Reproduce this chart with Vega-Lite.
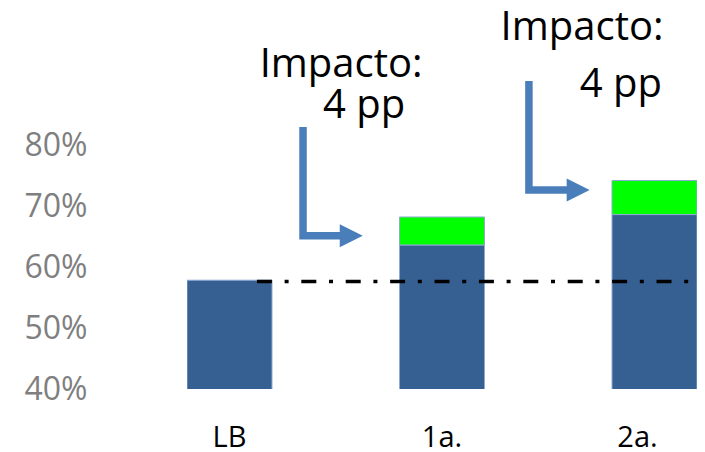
{
  "$schema": "https://vega.github.io/schema/vega-lite/v6.json",
  "width": 510,
  "height": 389,
  "autosize": {"type": "none"},
  "padding": {"left": 187, "top": 0, "right": 8, "bottom": 63},
  "background": "white",
  "config": {"view": {"stroke": null}, "font": "Open Sans", "axis": {"labelFont": "Open Sans"}},
  "datasets": {
    "bars": [
      {"cat": "LB", "part": "base", "ord": 1, "value": 57.9},
      {"cat": "1a.", "part": "base", "ord": 1, "value": 63.7},
      {"cat": "1a.", "part": "impact", "ord": 2, "value": 4.6},
      {"cat": "2a.", "part": "base", "ord": 1, "value": 68.7},
      {"cat": "2a.", "part": "impact", "ord": 2, "value": 5.6}
    ],
    "baseline": [{"x": 0.129, "y": 57.7}, {"x": 2.16, "y": 57.7}],
    "arrows": [
      {"arrow": "a", "step": 1, "x": 0.346, "y": 83.1},
      {"arrow": "a", "step": 2, "x": 0.346, "y": 65.22},
      {"arrow": "a", "step": 3, "x": 0.54, "y": 65.22},
      {"arrow": "b", "step": 1, "x": 1.409, "y": 90.67},
      {"arrow": "b", "step": 2, "x": 1.409, "y": 72.74},
      {"arrow": "b", "step": 3, "x": 1.6, "y": 72.74}
    ],
    "heads": [{"x": 0.573, "y": 65.22}, {"x": 1.641, "y": 72.74}],
    "labels": [
      {"text": "Impacto:", "x": 0.525, "y": 91.33},
      {"text": "4 pp", "x": 0.633, "y": 84.59},
      {"text": "Impacto:", "x": 1.659, "y": 97.42},
      {"text": "4 pp", "x": 1.842, "y": 88.04}
    ]
  },
  "layer": [
    {
      "data": {"name": "bars"},
      "mark": {"type": "bar", "clip": true, "stroke": "#8eaad4", "strokeWidth": 1},
      "encoding": {
        "x": {
          "field": "cat", "type": "nominal", "sort": ["LB", "1a.", "2a."],
          "scale": {"paddingInner": 0.6, "paddingOuter": 0},
          "axis": {
            "title": null, "labelAngle": 0, "ticks": false, "domain": false,
            "labelFontSize": 29, "labelColor": "#000000", "labelBaseline": "middle", "labelPadding": 48,
            "labelOffset": {"condition": {"test": "datum.value === '2a.'", "value": -17}, "value": 0}
          }
        },
        "y": {
          "field": "value", "type": "quantitative", "stack": "zero",
          "scale": {"domain": [40, 104], "nice": false, "zero": false},
          "axis": {
            "title": null, "values": [40, 50, 60, 70, 80], "labelExpr": "datum.value + '%'",
            "labelFontSize": 32, "labelColor": "#7f7f7f", "labelPadding": 100,
            "ticks": false, "domain": false, "grid": false
          }
        },
        "color": {
          "field": "part", "type": "nominal",
          "scale": {"domain": ["base", "impact"], "range": ["#376092", "#00ff00"]},
          "legend": null
        },
        "order": {"field": "ord", "type": "quantitative"}
      }
    },
    {
      "layer": [
        {
          "data": {"name": "baseline"},
          "mark": {"type": "line", "color": "#000000", "strokeWidth": 3.5, "strokeDash": [15, 12.7, 4, 12.7]},
          "encoding": {
            "x": {"field": "x", "type": "quantitative", "scale": {"domain": [-0.2, 2.2], "nice": false, "zero": false}, "axis": null},
            "y": {"field": "y", "type": "quantitative"}
          }
        },
        {
          "data": {"name": "arrows"},
          "mark": {"type": "line", "color": "#4a7ebb", "strokeWidth": 7.5, "strokeJoin": "miter", "strokeCap": "butt"},
          "encoding": {
            "x": {"field": "x", "type": "quantitative", "axis": null},
            "y": {"field": "y", "type": "quantitative"},
            "detail": {"field": "arrow"},
            "order": {"field": "step", "type": "quantitative"}
          }
        },
        {
          "data": {"name": "heads"},
          "mark": {"type": "point", "shape": "M-1,-1L1,0L-1,1Z", "size": 529, "filled": true, "color": "#4a7ebb", "opacity": 1},
          "encoding": {
            "x": {"field": "x", "type": "quantitative", "axis": null},
            "y": {"field": "y", "type": "quantitative"}
          }
        },
        {
          "data": {"name": "labels"},
          "mark": {"type": "text", "font": "Open Sans", "fontSize": 40, "align": "center", "baseline": "alphabetic", "color": "#000000"},
          "encoding": {
            "x": {"field": "x", "type": "quantitative", "axis": null},
            "y": {"field": "y", "type": "quantitative"},
            "text": {"field": "text"}
          }
        }
      ]
    }
  ],
  "resolve": {"scale": {"x": "independent"}}
}
